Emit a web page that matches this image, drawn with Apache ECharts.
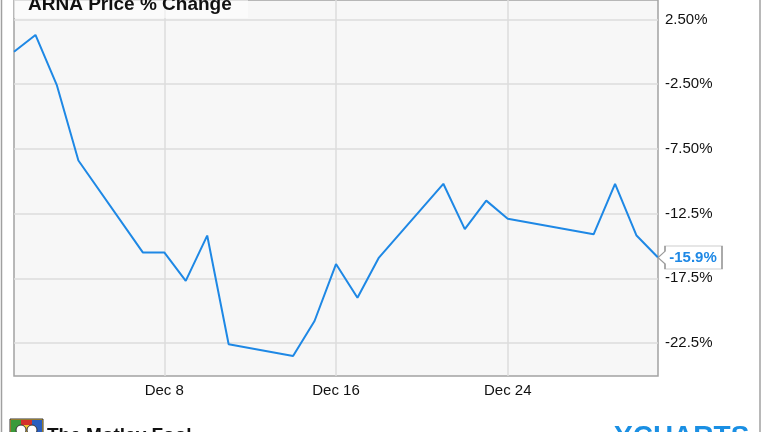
<!DOCTYPE html>
<html><head><meta charset="utf-8">
<script src="https://cdn.jsdelivr.net/npm/echarts@6/dist/echarts.min.js"></script>
<style>html,body{margin:0;padding:0;background:#fff}#c{width:764px;height:432px}</style>
</head><body><div id="c"></div>
<script>
// ---- data ----
const dates = ['2015-12-01','2015-12-02','2015-12-03','2015-12-04','2015-12-07','2015-12-08','2015-12-09','2015-12-10','2015-12-11','2015-12-14','2015-12-15','2015-12-16','2015-12-17','2015-12-18','2015-12-21','2015-12-22','2015-12-23','2015-12-24','2015-12-28','2015-12-29','2015-12-30','2015-12-31'];
const pctChange = [0.0, 1.3, -2.6, -8.4, -15.5, -15.5, -17.7, -14.2, -22.6, -23.5, -20.8, -16.4, -19.0, -15.9, -10.2, -13.7, -11.5, -12.9, -14.1, -10.2, -14.2, -15.9];
const xRange = ['2015-12-01', '2015-12-31'];
const xTickDates = ['2015-12-08', '2015-12-16', '2015-12-24'];
const xTickLabels = ['Dec 8', 'Dec 16', 'Dec 24'];
const yRange = [-25.05, 4.0];
const yTickValues = [2.5, -2.5, -7.5, -12.5, -17.5, -22.5];
const yTickLabels = ['2.50%', '-2.50%', '-7.50%', '-12.5%', '-17.5%', '-22.5%'];
const titleText = 'ARNA Price % Change';
const lastLabel = '-15.9%';

// ---- helpers ----
const ts = s => { const [y, m, d] = s.split('-').map(Number); return Date.UTC(y, m - 1, d); };
const FONT = '"Liberation Sans", Arial, sans-serif';
const BLUE = '#1e88e5';

const seriesData = dates.map((d, i) => [ts(d), pctChange[i]]);
const xTicks = xTickDates.map(ts);
const lastPoint = seriesData[seriesData.length - 1];

const chart = echarts.init(document.getElementById('c'), null, {renderer: 'canvas'});
chart.setOption({
  animation: false,
  backgroundColor: '#ffffff',
  grid: {
    left: 14, right: 106, top: 0, bottom: 56,
    show: true, backgroundColor: '#f7f7f7', borderColor: '#a3a3a3', borderWidth: 1.5,
    containLabel: false
  },
  xAxis: {
    type: 'value',
    min: ts(xRange[0]), max: ts(xRange[1]),
    axisLine: {show: false},
    axisTick: {show: false, customValues: xTicks},
    axisLabel: {
      customValues: xTicks, margin: 7, fontSize: 15, color: '#111', fontFamily: FONT,
      formatter: v => { const i = xTicks.indexOf(v); return i >= 0 ? xTickLabels[i] : ''; }
    },
    splitLine: {show: true, lineStyle: {color: '#dcdcdc', width: 1.5}}
  },
  yAxis: {
    type: 'value', position: 'right',
    min: yRange[0], max: yRange[1],
    axisLine: {show: false},
    axisTick: {show: false, customValues: yTickValues},
    axisLabel: {
      customValues: yTickValues, margin: 7, fontSize: 15, color: '#111', fontFamily: FONT,
      formatter: v => { const i = yTickValues.findIndex(t => Math.abs(t - v) < 1e-6); return i >= 0 ? yTickLabels[i] : ''; }
    },
    splitLine: {show: true, lineStyle: {color: '#dcdcdc', width: 1.5}}
  },
  series: [{
    type: 'line',
    data: seriesData,
    symbol: 'none',
    lineStyle: {color: BLUE, width: 2},
    z: 3,
    markPoint: {
      symbol: 'path://M0,11L7,5L7,0L64,0L64,22L7,22L7,17Z',
      symbolSize: [64, 23],
      symbolOffset: [32, 0],
      itemStyle: {color: '#ffffff', borderColor: '#9a9a9a', borderWidth: 1},
      label: {show: true, position: 'inside', offset: [3, 0], formatter: lastLabel,
              color: BLUE, fontWeight: 'bold', fontSize: 15, fontFamily: FONT},
      data: [{coord: lastPoint}]
    }
  }],
  graphic: [
    {type: 'rect', shape: {x: 14, y: -2, width: 234, height: 20}, style: {fill: 'rgba(255,255,255,0.55)'}, z: 50},
    {type: 'text', x: 28, y: -5, style: {text: titleText, font: 'bold 19px ' + FONT, fill: '#111'}, z: 51},
    {type: 'line', shape: {x1: 1.5, y1: 0, x2: 1.5, y2: 432}, style: {stroke: '#a0a0a0', lineWidth: 1.5}, z: 50},
    {type: 'line', shape: {x1: 760, y1: 0, x2: 760, y2: 432}, style: {stroke: '#a0a0a0', lineWidth: 1.5}, z: 50},
    // Motley Fool logo (approx)
    {type: 'rect', shape: {x: 10, y: 419, width: 33, height: 20}, style: {fill: '#f2c230', stroke: '#333', lineWidth: 1}, z: 50},
    {type: 'rect', shape: {x: 11, y: 420, width: 10, height: 18}, style: {fill: '#3a9a3a'}, z: 51},
    {type: 'rect', shape: {x: 32, y: 420, width: 10, height: 18}, style: {fill: '#2a5fc0'}, z: 51},
    {type: 'rect', shape: {x: 21, y: 420, width: 11, height: 5}, style: {fill: '#d3302a'}, z: 51},
    {type: 'circle', shape: {cx: 21, cy: 430, r: 5}, style: {fill: '#fff', stroke: '#333', lineWidth: 1}, z: 52},
    {type: 'circle', shape: {cx: 32, cy: 430, r: 5}, style: {fill: '#fff', stroke: '#333', lineWidth: 1}, z: 52},
    {type: 'text', x: 47, y: 426, style: {text: 'The Motley Fool', font: 'bold 19px ' + FONT, fill: '#111'}, z: 51},
    {type: 'text', x: 614, y: 423, style: {text: 'YCHARTS', font: 'bold 28px ' + FONT, fill: '#1a8fe3'}, z: 51}
  ]
});
</script>
</body></html>
